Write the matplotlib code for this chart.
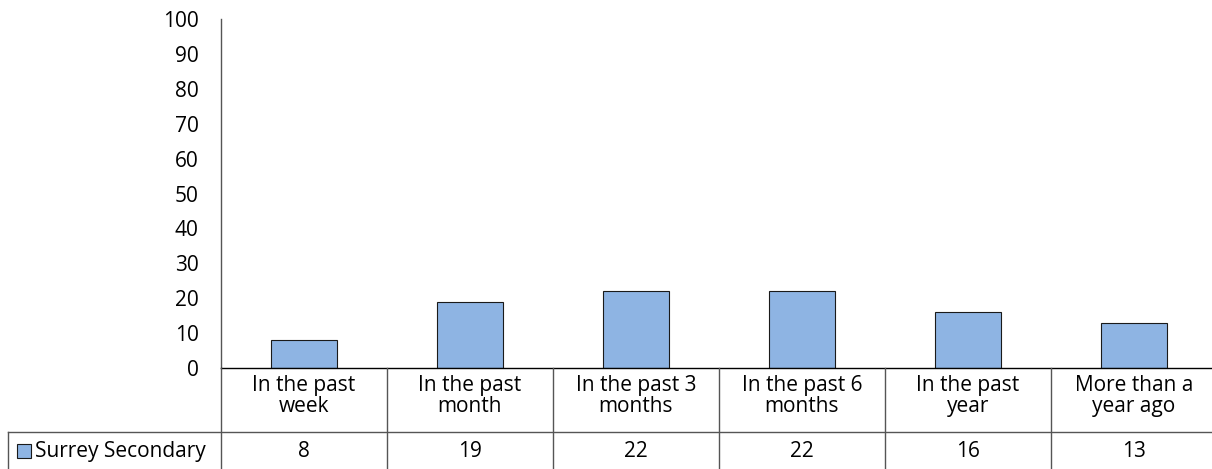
import matplotlib.pyplot as plt
from matplotlib.patches import Rectangle
import matplotlib.transforms as mtransforms

plt.rcParams['font.family'] = ['Open Sans', 'DejaVu Sans']

categories = ["In the past\nweek", "In the past\nmonth", "In the past 3\nmonths",
              "In the past 6\nmonths", "In the past\nyear", "More than a\nyear ago"]
values = [8, 19, 22, 22, 16, 13]
series_name = "Surrey Secondary"
yticks = list(range(0, 101, 10))

bar_color = "#8EB4E3"
edge_color = "#1a1a1a"
line_color = "#555555"
fs = 15

W, H = 1212, 469
fig = plt.figure(figsize=(W / 100, H / 100), dpi=100)

# axes in pixel units: y-axis at x=221, columns 166 px wide
x0, col_w = 221, 166
y_top, y_zero = 19, 368
ax = fig.add_axes([x0 / W, 1 - y_zero / H, 6 * col_w / W, (y_zero - y_top) / H])

xs = list(range(len(values)))
ax.bar(xs, values, width=0.4, color=bar_color, edgecolor=edge_color, linewidth=0.8)
ax.set_xlim(-0.5, len(values) - 0.5)
ax.set_ylim(0, 100)
ax.set_yticks(yticks)
ax.set_xticks([])
ax.tick_params(axis='y', length=0, pad=16, labelsize=fs)
for s in ["top", "right", "bottom"]:
    ax.spines[s].set_visible(False)
ax.spines["left"].set_color(line_color)
ax.spines["left"].set_linewidth(1.0)

# data table below the plot
def fy(py):
    return 1 - py / H

def fx(px):
    return px / W

row1, row_sep, bottom = 368, 432, 469
lw = 1.0
fig.add_artist(plt.Line2D([fx(x0), fx(x0 + 6 * col_w)], [fy(row1)] * 2, color="black", lw=lw))
fig.add_artist(plt.Line2D([fx(8), fx(x0 + 6 * col_w)], [fy(row_sep)] * 2, color=line_color, lw=lw))
fig.add_artist(plt.Line2D([fx(8), fx(8)], [fy(row_sep), fy(bottom)], color=line_color, lw=lw))
for i in range(len(values) + 1):
    xb = x0 + i * col_w
    fig.add_artist(plt.Line2D([fx(xb)] * 2, [fy(row1), fy(bottom)], color=line_color, lw=lw))

trans = mtransforms.blended_transform_factory(ax.transData, fig.transFigure)
for x, cat, v in zip(xs, categories, values):
    ax.text(x, fy(396), cat, transform=trans, ha='center', va='center',
            fontsize=fs, linespacing=1.0, clip_on=False)
    ax.text(x, fy(451), str(v), transform=trans, ha='center', va='center',
            fontsize=fs, clip_on=False)

# legend key in the first cell
fig.add_artist(Rectangle((fx(17), fy(458)), 14 / W, 14 / H, transform=fig.transFigure,
                         facecolor=bar_color, edgecolor=edge_color, lw=0.8))
fig.text(fx(35), fy(451), series_name, ha='left', va='center', fontsize=fs)

fig.savefig("out.png", dpi=100)
